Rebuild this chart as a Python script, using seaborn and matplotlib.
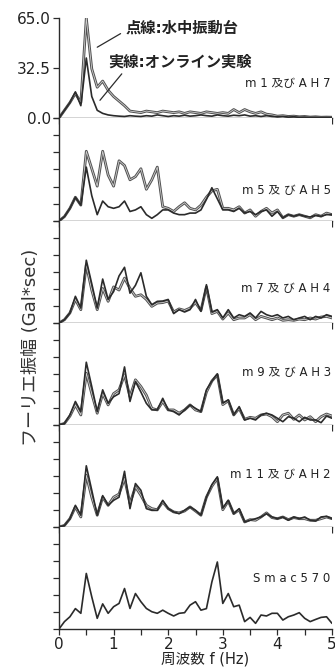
import numpy as np
import pandas as pd
import matplotlib
matplotlib.use("Agg")
import matplotlib.pyplot as plt
import matplotlib.patheffects as pe
import seaborn as sns

# frequency grid (Hz), 0.1 Hz step
f_hz = np.round(np.arange(0, 5.01, 0.1), 1)

# panel 1 : m1 / AH7
p1_dot = [0, 5, 10, 16, 10, 65, 32, 20, 24, 18, 14, 11, 8, 4.5, 4, 3.5, 4.5, 4, 3.5, 4.5,
          4, 3.5, 4, 3, 4, 3.5, 3, 4, 3.5, 3, 3.5, 3, 5.5, 3.5, 5.5, 4, 3, 4, 2.5, 2,
          1.2, 1.5, 1, 1.2, 0.8, 1, 0.6, 0.8, 0.5, 0.6, 0.5]
p1_sol = [0, 5, 10, 17, 8, 39, 14, 5, 3, 2, 1.5, 1.2, 1, 1.5, 1.2, 1, 1.5, 1.2, 2, 1.5,
          1, 1.5, 1.2, 1.8, 1.2, 1.5, 2, 1.5, 1.2, 2, 1.5, 1.2, 1.8, 1.5, 2, 1.2, 1.5, 1, 1.5, 1,
          0.8, 1, 0.6, 0.8, 0.5, 0.6, 0.4, 0.5, 0.3, 0.4, 0.3]

# panel 2 : m5 / AH5
p2_dot = [0, 2.8, 8, 15, 10, 44, 33, 22, 44, 29, 22, 38, 35, 26, 28, 33, 20, 26, 34, 9,
          8, 6, 9, 11.5, 8, 7, 10, 15, 19, 20, 8, 8, 7, 9, 5, 7, 3, 6, 8, 5,
          7, 2, 4, 3, 4, 3, 2, 4, 3, 5, 4]
p2_sol = [0, 2.8, 8, 15, 10, 34, 16, 4, 12.6, 9, 8, 9, 12.6, 6, 7, 9, 4, 1.7, 4, 7,
          7, 5, 4, 4, 5, 5, 7, 13.6, 21, 14, 7, 7, 6, 8, 5, 6, 4, 6, 7, 3,
          6, 2, 4, 3, 4, 3, 2.5, 3.5, 3, 4, 4]

# panel 3 : m7 / AH4
p3_dot = [0, 2.1, 6.4, 15, 8.5, 37, 21, 8.5, 22, 13.8, 23, 21, 28.6, 22, 17, 18, 15, 10.6, 12.7, 13,
          14, 7, 9, 8, 9.5, 13, 8, 23, 6, 7.4, 2.5, 6.4, 2.1, 3.2, 3.2, 5.3, 2.1, 4.2, 3.2, 2.1,
          3.2, 1.7, 2.1, 1.7, 2.5, 2.1, 3.2, 2.5, 3.8, 4.2, 3.2]
p3_sol = [0, 2.1, 6.4, 17, 9.5, 40, 25, 9.5, 28, 15, 20, 30, 35.5, 19, 24, 32, 17, 11.7, 13.8, 14,
          15, 6, 8.5, 7, 8.5, 15, 7.4, 24.4, 7, 8.5, 3.2, 8.5, 3.2, 5.3, 4.2, 6.4, 3.2, 7.4, 5.3, 4.2,
          5.3, 3.2, 4.2, 2.1, 3.2, 4.2, 2.1, 4.2, 3.2, 5.3, 4.2]

# panel 4 : m9 / AH3
p4_dot = [0, 1, 5.7, 12.8, 6.4, 33, 20, 7.5, 20, 12.8, 20, 22.4, 32, 18, 28.8, 24.5, 19, 10.6, 9.6, 15,
          9.6, 9.6, 7.5, 9.6, 12.8, 9.6, 8.5, 21, 28, 32, 13, 15.5, 6.4, 10.6, 3.6, 4.9, 4.3, 6.4, 7, 5.3,
          2.1, 6.4, 7.5, 3.6, 6.4, 3.2, 5.3, 2.1, 5.3, 7, 5.7]
p4_sol = [0, 1, 6.4, 15, 8.5, 40, 24.5, 8.5, 22.4, 13.8, 18, 20, 37, 15, 27.7, 21, 13.8, 9.6, 9.6, 17,
          9.6, 8.5, 6.4, 9.6, 12.8, 10.6, 8.5, 22.4, 28, 32.6, 14, 16, 6.4, 11.7, 3.2, 4.3, 3.2, 6.4, 7.5, 6.4,
          4.3, 2.1, 5.3, 4.3, 2.1, 4.9, 3.2, 3.2, 1.5, 5.7, 4.3]

# panel 5 : m11 / AH2
p5_dot = [0, 1, 5.3, 12.8, 6.4, 33, 19, 7.5, 19, 13.8, 19, 21, 31, 15, 25.6, 20.2, 13.8, 11.7, 11, 16,
          11.7, 9.6, 9, 10.2, 12.8, 10.2, 7.5, 19, 26, 31, 11, 16.6, 8.5, 11, 3.2, 4.7, 4.3, 6.4, 9, 6,
          5.3, 6.4, 4.7, 6, 5.3, 5.3, 4.3, 4.3, 5.3, 6.4, 5.3]
p5_sol = [0, 1, 5.3, 13.8, 7.5, 39, 23.4, 7.5, 20, 13.8, 17, 19, 35.5, 11.7, 27.7, 23.4, 11.7, 10.6, 10.6, 17,
          11.7, 9.6, 8.5, 10.6, 12.8, 10.6, 7.5, 19, 27, 32, 12, 17, 8.5, 11.7, 3.2, 4.3, 5.3, 6.4, 8.5, 6.4,
          5.3, 6.4, 4.3, 6.4, 5.3, 6.4, 4.3, 3.8, 6.4, 6.8, 5.3]

# panel 6 : input wave Smac570
p6_in = [0, 4.7, 7.8, 13, 10, 35.4, 20.5, 6.8, 16, 10, 14.2, 16.3, 25.8, 13.1, 22.6, 17.4, 13.1, 11, 10, 12,
         10, 8.3, 10, 10.4, 15.2, 17.4, 12, 13, 30, 42.7, 16.3, 22.6, 14.2, 15.2, 4.7, 7.4, 3.6, 8.9, 8.3, 10,
         10, 5.7, 7.8, 8.9, 10.4, 6.8, 4.7, 6.1, 7.4, 7.8, 3.6]

panel_labels = ["m 1 及び A H 7", "m 5 及 び A H 5", "m 7 及 び A H 4", "m 9 及 び A H 3",
                "m 1 1 及 び A H 2", "S m a c 5 7 0"]
label_y = [0.34, 0.30, 0.34, 0.51, 0.51, 0.50]
series = [(p1_dot, p1_sol), (p2_dot, p2_sol), (p3_dot, p3_sol),
          (p4_dot, p4_sol), (p5_dot, p5_sol), (None, p6_in)]

sns.set_theme(style="ticks")
plt.rcParams['font.family'] = ['DejaVu Sans', 'Noto Sans CJK JP']

fig, axes = plt.subplots(6, 1, figsize=(3.35, 6.67), dpi=100, sharex=True,
                         gridspec_kw=dict(height_ratios=[100, 103, 102, 102, 102, 102], hspace=0))
fig.subplots_adjust(left=59 / 335, right=332 / 335, top=1 - 18 / 667, bottom=1 - 629 / 667)

ink = "#2b2b2b"
# the scanned dotted line reads as a hollow grey stroke
hollow = [pe.Stroke(linewidth=2.0, foreground="#505050"),
          pe.Stroke(linewidth=0.6, foreground="#cfcfcf")]

for i, ax in enumerate(axes):
    dot, sol = series[i]
    if dot is not None:
        sns.lineplot(x=f_hz, y=dot, color="#505050", linewidth=2.0, ax=ax,
                     path_effects=hollow)
    sns.lineplot(x=f_hz, y=sol, color=ink, linewidth=1.2, ax=ax)
    ax.set_xlim(0, 5)
    ax.set_ylim(0, 65)
    for s in ["top", "right"]:
        ax.spines[s].set_visible(False)
    for s in ["left", "bottom"]:
        ax.spines[s].set_color(ink)
        ax.spines[s].set_linewidth(1.0)
    ax.tick_params(direction="out", length=4, width=0.9, color=ink, pad=2,
                   labelsize=11, labelcolor="#222")
    ax.set_xticks(np.arange(0, 5.01, 0.5))
    if i == 0:
        ax.set_yticks([0, 32.5, 65])
        ax.set_yticklabels(["0.0", "32.5", "65.0"])
    else:
        ax.set_yticks(np.linspace(0, 65, 7))
        ax.set_yticklabels([])
    ax.text(0.995, label_y[i], panel_labels[i], transform=ax.transAxes,
            ha="right", va="center", fontsize=8.5, color="#222")

axes[-1].set_xticklabels([("%d" % v if v == int(v) else "") for v in np.arange(0, 5.01, 0.5)],
                         fontsize=11)

ax0 = axes[0]
ax0.annotate("点線:水中振動台", xy=(0.70, 46), xytext=(1.21, 58.5),
             fontsize=11, fontweight="bold", color="#222", ha="left", va="center",
             arrowprops=dict(arrowstyle="-", color=ink, lw=0.9, relpos=(0, 0.3),
                             shrinkA=1, shrinkB=0))
ax0.annotate("実線:オンライン実験", xy=(0.75, 11.5), xytext=(0.90, 36.4),
             fontsize=11, fontweight="bold", color="#222", ha="left", va="center",
             arrowprops=dict(arrowstyle="-", color=ink, lw=0.9, relpos=(0.12, 0),
                             shrinkA=1, shrinkB=0))

fig.text(31 / 335, 1 - 347 / 667, "フーリエ振幅 (Gal*sec)", rotation=90,
         ha="center", va="center", fontsize=13, color="#333")
fig.text(205 / 335, 1 - 651 / 667, "周波数 f (Hz)", ha="center", va="top",
         fontsize=10.5, color="#222")

fig.savefig("out.png", dpi=100, facecolor="white")
